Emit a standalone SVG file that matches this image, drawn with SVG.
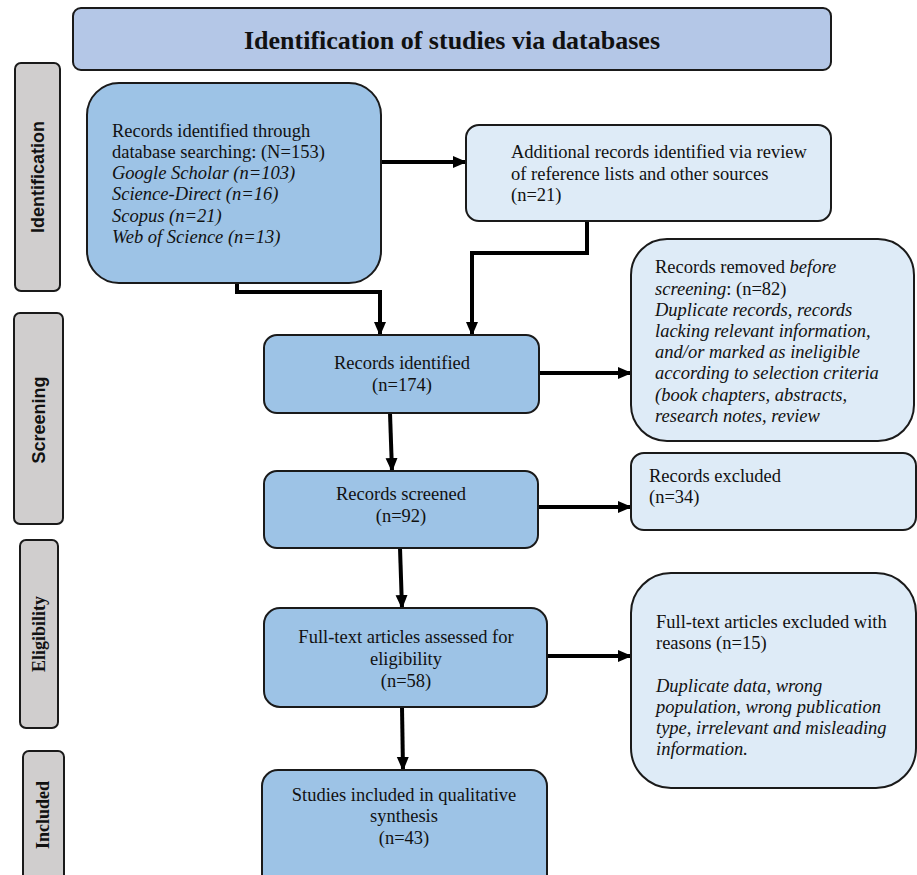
<svg xmlns="http://www.w3.org/2000/svg" width="917" height="875" viewBox="0 0 917 875">
<defs>
<style>
.hdr{fill:#b4c7e7;stroke:#1a1a1a;stroke-width:2}
.dk{fill:#9dc3e6;stroke:#1a1a1a;stroke-width:2}
.lt{fill:#deebf7;stroke:#1a1a1a;stroke-width:2}
.side{fill:#d0cece;stroke:#1a1a1a;stroke-width:2}
text{font-family:"Liberation Serif","Times New Roman",serif;font-size:18.5px;fill:#111}
.c{text-anchor:middle}
.i{font-style:italic}
.title{font-size:26px;font-weight:bold}
.ss{font-family:"Liberation Sans",Arial,sans-serif;font-weight:bold;font-size:18px;text-anchor:middle}
.sb{font-weight:bold;font-size:18px;text-anchor:middle}
.con{fill:none;stroke:#000;stroke-width:4;marker-end:url(#ah)}
</style>
<marker id="ah" markerUnits="userSpaceOnUse" markerWidth="14" markerHeight="14" viewBox="0 0 14 14" refX="13" refY="7" orient="auto">
<path d="M0,1 L14,7 L0,13 Z" fill="#000"/>
</marker>
</defs>

<g id="header">
<rect class="hdr" x="73" y="8" width="758" height="62" rx="8"/>
<text class="title c" x="452" y="49">Identification of studies via databases</text>
</g>

<g id="side-identification">
<rect class="side" x="15" y="63" width="45" height="228" rx="6"/>
<text class="ss" transform="translate(44,177) rotate(-90)">Identification</text>
</g>
<g id="side-screening">
<rect class="side" x="14" y="313" width="49" height="211" rx="6"/>
<text class="ss" transform="translate(45,420) rotate(-90)">Screening</text>
</g>
<g id="side-eligibility">
<rect class="side" x="20" y="540" width="38" height="188" rx="6"/>
<text class="sb" transform="translate(45,634) rotate(-90)">Eligibility</text>
</g>
<g id="side-included">
<rect class="side" x="23" y="751" width="41" height="150" rx="6"/>
<text class="sb" transform="translate(49,815) rotate(-90)">Included</text>
</g>

<g id="connectors">
<line class="con" x1="382" y1="162" x2="466" y2="162"/>
<polyline class="con" points="237,283 237,292 380,292 380,335"/>
<polyline class="con" points="587,221 587,253 472,253 472,335"/>
<line class="con" x1="539" y1="373" x2="631" y2="373"/>
<line class="con" x1="390" y1="413" x2="392" y2="471"/>
<line class="con" x1="538" y1="507" x2="631" y2="507"/>
<line class="con" x1="400" y1="548" x2="402" y2="608"/>
<line class="con" x1="547" y1="656" x2="631" y2="656"/>
<line class="con" x1="402" y1="707" x2="403" y2="770"/>
</g>

<g id="n-db">
<rect class="dk" x="87" y="83" width="294" height="200" rx="32"/>
<text x="112" y="137">Records identified through</text>
<text x="112" y="158">database searching: (N=153)</text>
<text class="i" x="112" y="179">Google Scholar (n=103)</text>
<text class="i" x="112" y="200">Science-Direct (n=16)</text>
<text class="i" x="112" y="222">Scopus (n=21)</text>
<text class="i" x="112" y="243">Web of Science (n=13)</text>
</g>

<g id="n-additional">
<rect class="lt" x="466" y="125" width="365" height="96" rx="13"/>
<text x="511" y="158">Additional records identified via review</text>
<text x="511" y="180">of reference lists and other sources</text>
<text x="511" y="201">(n=21)</text>
</g>

<g id="n-identified">
<rect class="dk" x="264" y="335" width="275" height="78" rx="13"/>
<text class="c" x="402" y="369">Records identified</text>
<text class="c" x="402" y="391">(n=174)</text>
</g>

<g id="n-removed">
<rect class="lt" x="631" y="239" width="283" height="202" rx="36"/>
<text x="655" y="273">Records removed <tspan class="i">before</tspan></text>
<text x="655" y="295"><tspan class="i">screening</tspan>: (n=82)</text>
<text class="i" x="655" y="316">Duplicate records, records</text>
<text class="i" x="655" y="337">lacking relevant information,</text>
<text class="i" x="655" y="358">and/or marked as ineligible</text>
<text class="i" x="655" y="379">according to selection criteria</text>
<text class="i" x="655" y="401">(book chapters, abstracts,</text>
<text class="i" x="655" y="422">research notes, review</text>
</g>

<g id="n-screened">
<rect class="dk" x="264" y="471" width="274" height="77" rx="13"/>
<text class="c" x="401" y="500">Records screened</text>
<text class="c" x="401" y="522">(n=92)</text>
</g>

<g id="n-excluded">
<rect class="lt" x="631" y="453" width="285" height="77" rx="13"/>
<text x="649" y="482">Records excluded</text>
<text x="649" y="503">(n=34)</text>
</g>

<g id="n-fulltext">
<rect class="dk" x="264" y="608" width="283" height="99" rx="16"/>
<text class="c" x="406" y="643">Full-text articles assessed for</text>
<text class="c" x="406" y="665">eligibility</text>
<text class="c" x="406" y="687">(n=58)</text>
</g>

<g id="n-ft-excluded">
<rect class="lt" x="631" y="573" width="285" height="215" rx="40"/>
<text x="656" y="628">Full-text articles excluded with</text>
<text x="656" y="649">reasons (n=15)</text>
<text class="i" x="656" y="692">Duplicate data, wrong</text>
<text class="i" x="656" y="713">population, wrong publication</text>
<text class="i" x="656" y="734">type, irrelevant and misleading</text>
<text class="i" x="656" y="755">information.</text>
</g>

<g id="n-included">
<rect class="dk" x="262" y="770" width="285" height="130" rx="16"/>
<text class="c" x="404" y="801">Studies included in qualitative</text>
<text class="c" x="404" y="822">synthesis</text>
<text class="c" x="404" y="844">(n=43)</text>
</g>
</svg>
